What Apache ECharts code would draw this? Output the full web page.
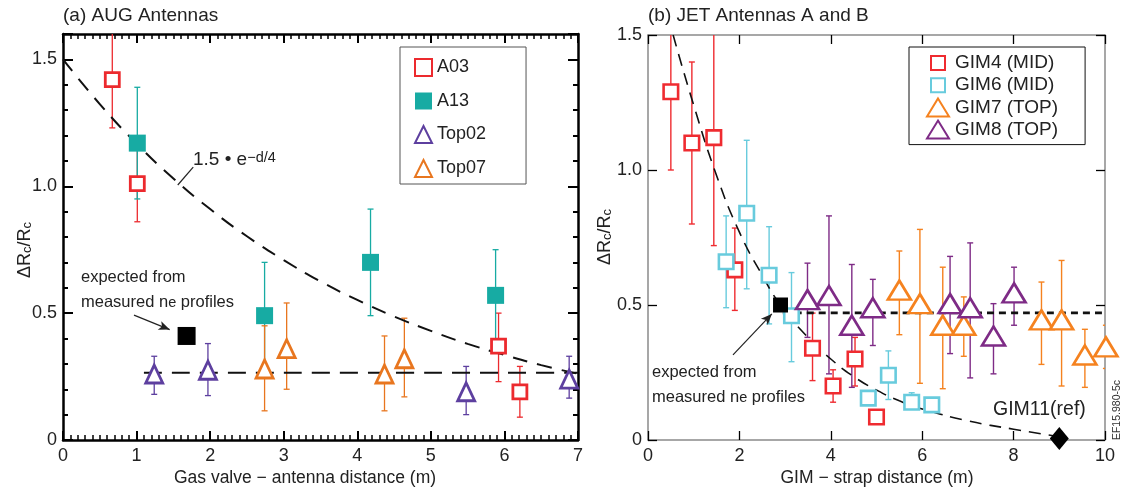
<!DOCTYPE html>
<html><head><meta charset="utf-8">
<script src="https://cdn.jsdelivr.net/npm/echarts@6/dist/echarts.min.js"></script>
<style>html,body{margin:0;padding:0;background:#fff}#c{width:1123px;height:493px}</style>
</head><body><div id="c"></div>
<script>
// ---------- DATA: [x, y, errLow, errHigh] ----------
// (a) AUG antennas
const augA03   = [[0.67,1.42,1.23,1.61],[1.01,1.01,0.86,1.17],[5.92,0.37,0.23,0.50],[6.21,0.19,0.09,0.29]];
const augA13   = [[1.01,1.17,0.95,1.39],[2.74,0.49,0.29,0.70],[4.18,0.70,0.49,0.91],[5.88,0.57,0.39,0.75]];
const augTop02 = [[1.24,0.26,0.18,0.33],[1.97,0.275,0.175,0.38],[5.48,0.19,0.10,0.29],[6.88,0.24,0.165,0.33]];
const augTop07 = [[2.74,0.28,0.115,0.45],[3.04,0.36,0.20,0.54],[4.37,0.26,0.115,0.41],[4.64,0.32,0.17,0.48]];
const augExpected = [[1.68,0.41]];
const augFitX = [0,0.5,1,1.5,2,2.5,3,3.5,4,4.5,5,5.5,6,6.5,7];
const augFitY = [1.50,1.324,1.168,1.031,0.910,0.803,0.709,0.625,0.552,0.487,0.430,0.379,0.335,0.295,0.261];
const augFloorX = [1.1,7];
const augFloorY = [0.265,0.265];
const augXTicks = [0,7,1];
const augYTicks = [0,1.6,0.5];

// (b) JET antennas A and B
const jetGIM4 = [[0.50,1.29,1.00,1.58],[0.96,1.10,0.80,1.40],[1.44,1.12,0.72,1.52],[1.90,0.63,0.48,0.785],[3.60,0.34,0.22,0.47],[4.05,0.20,0.14,0.26],[4.53,0.30,0.20,0.38],[5.00,0.085,0.085,0.085]];
const jetGIM6 = [[1.71,0.66,0.49,0.83],[2.16,0.84,0.56,1.11],[2.65,0.61,0.43,0.79],[3.14,0.46,0.29,0.62],[4.82,0.155,0.15,0.16],[5.26,0.24,0.15,0.33],[5.77,0.14,0.125,0.175],[6.21,0.13,0.13,0.13]];
const jetGIM7 = [[5.50,0.555,0.39,0.70],[5.95,0.505,0.21,0.78],[6.45,0.425,0.19,0.64],[6.91,0.425,0.31,0.53],[8.61,0.445,0.28,0.585],[9.05,0.445,0.20,0.665],[9.56,0.315,0.195,0.41],[10.02,0.345,0.265,0.425]];
const jetGIM8 = [[3.49,0.52,0.38,0.655],[3.96,0.535,0.245,0.83],[4.46,0.425,0.195,0.65],[4.92,0.49,0.35,0.595],[6.61,0.505,0.32,0.68],[7.05,0.49,0.23,0.73],[7.56,0.385,0.245,0.505],[8.01,0.545,0.425,0.64]];
const jetExpected = [[2.90,0.50]];
const jetRef = [[9.0,0.006]];
const jetFitX = [0.55,1,1.5,2,2.5,2.9,3.5,4,4.5,5,5.5,6,7,8,9];
const jetFitY = [1.50,1.24,0.98,0.77,0.61,0.50,0.38,0.30,0.235,0.185,0.145,0.115,0.071,0.040,0.012];
const jetFloorX = [2.95,10];
const jetFloorY = [0.471,0.471];
const jetXTicks = [0,10,2];
const jetYTicks = [0,1.5,0.5];

// ---------- STYLE ----------
const FF = '"Liberation Sans", Arial, Helvetica, sans-serif';
const TXT = '#222';
const C = {a03:'#ec2a2e', a13:'#17aba3', top02:'#5d3f9f', top07:'#e8761f',
           g4:'#ef2b30', g6:'#68cbdd', g7:'#f5821f', g8:'#7e2b86'};

function errSeries(name, data, color, xi, yi, lw) {
  return {
    type:'custom', name:name, xAxisIndex:xi, yAxisIndex:yi, clip:true, silent:true, z:1,
    encode:{x:0, y:1}, data:data,
    renderItem:function(params, api){
      const x = api.value(0), lo = api.value(2), hi = api.value(3);
      if (hi - lo < 1e-6) return null;
      const p1 = api.coord([x, lo]), p2 = api.coord([x, hi]);
      const cw = 3;
      const st = {stroke:color, lineWidth:lw};
      return {type:'group', children:[
        {type:'line', shape:{x1:p1[0],y1:p1[1],x2:p2[0],y2:p2[1]}, style:st},
        {type:'line', shape:{x1:p1[0]-cw,y1:p1[1],x2:p1[0]+cw,y2:p1[1]}, style:st},
        {type:'line', shape:{x1:p2[0]-cw,y1:p2[1],x2:p2[0]+cw,y2:p2[1]}, style:st}
      ]};
    }
  };
}
function markSeries(name, data, symbol, size, fill, stroke, bw, xi, yi, extra) {
  const s = {
    type:'scatter', name:name, xAxisIndex:xi, yAxisIndex:yi, clip:false, z:3,
    symbol:symbol, symbolSize:size,
    itemStyle:{color:fill, borderColor:stroke, borderWidth:bw, opacity:1},
    emphasis:{disabled:true}, silent:true,
    data:data.map(d => [d[0], d[1]])
  };
  return Object.assign(s, extra || {});
}
function lineSeries(xs, ys, dash, width, xi, yi) {
  return {type:'line', xAxisIndex:xi, yAxisIndex:yi, showSymbol:false, symbol:'none', smooth:true, silent:true, z:2,
    lineStyle:{color:'#111', width:width, type:dash}, data:xs.map((x,i)=>[x, ys[i]])};
}
function arrowLine(p0, p1) {
  return {silent:true, symbol:['none','arrow'], symbolSize:[7,11],
    lineStyle:{color:'#222', width:1.2, type:'solid'}, label:{show:false},
    data:[[{coord:p0},{coord:p1}]]};
}

const lblFmt = function(v){
  if (Math.abs(v*2 - Math.round(v*2)) > 1e-6) return '';
  return v === 0 ? '0' : v.toFixed(1);
};

function xAx(grid, pos, t, labels, lineColor, lw, minor) {
  return {type:'value', gridIndex:grid, position:pos, min:t[0], max:t[1], interval:t[2],
    axisLine:{show:true, onZero:false, lineStyle:{color:lineColor, width:lw}},
    axisTick:{show:true, inside:true, length:9, lineStyle:{color:'#000', width:lw>2?2:1.3}},
    minorTick:{show:!!minor, splitNumber:10, length:5, lineStyle:{color:'#000', width:1.5}},
    splitLine:{show:false}, minorSplitLine:{show:false},
    axisLabel:{show:labels, color:TXT, fontSize:18, fontFamily:FF, margin:7}};
}
function yAx(grid, pos, min, max, interval, labels, lineColor, lw, tickLen, showLine) {
  return {type:'value', gridIndex:grid, position:pos, min:min, max:max, interval:interval,
    axisLine:{show:showLine, onZero:false, lineStyle:{color:lineColor, width:lw}},
    axisTick:{show:true, inside:true, length:tickLen, lineStyle:{color:'#000', width:lw>2?2:1.3}},
    splitLine:{show:false},
    axisLabel:{show:labels, color:TXT, fontSize:18, fontFamily:FF, margin:6, formatter:lblFmt}};
}

const richY = {
  m:{fontSize:18, fontFamily:FF, fill:TXT, color:TXT, lineHeight:18, verticalAlign:'top'},
  s:{fontSize:13, fontFamily:FF, fill:TXT, color:TXT, lineHeight:13, padding:[7,0,0,0], verticalAlign:'bottom'}
};
const richNe = {
  m:{fontSize:16.5, fontFamily:FF, fill:TXT, color:TXT, lineHeight:17, verticalAlign:'top'},
  s:{fontSize:14.5, fontFamily:FF, fill:TXT, color:TXT, lineHeight:14, padding:[9,0,0,0], verticalAlign:'bottom'}
};
function txt(x, y, text, size, align, extra) {
  return Object.assign({type:'text', x:x, y:y, silent:true,
    style:{text:text, fontSize:size, fontFamily:FF, fill:TXT, align:align||'left', verticalAlign:'middle'}}, extra||{});
}

const option = {
  animation:false,
  backgroundColor:'#fff',
  grid:[
    {left:63, top:34, width:515, height:406},
    {left:648, top:35, width:457, height:405}
  ],
  xAxis:[
    xAx(0,'bottom',augXTicks,true,'#000',2.5,true),
    xAx(0,'top',augXTicks,false,'#000',2.5,true),
    xAx(1,'bottom',jetXTicks,true,'#8a8a8a',1.5,false),
    xAx(1,'top',jetXTicks,false,'#8a8a8a',1.5,false)
  ],
  yAxis:[
    yAx(0,'left',augYTicks[0],augYTicks[1],augYTicks[2],true,'#000',2.5,10,true),
    yAx(0,'left',augYTicks[0],augYTicks[1],0.1,false,'#000',2.5,5,false),
    yAx(0,'right',augYTicks[0],augYTicks[1],augYTicks[2],false,'#000',2.5,10,true),
    yAx(0,'right',augYTicks[0],augYTicks[1],0.1,false,'#000',2.5,5,false),
    yAx(1,'left',jetYTicks[0],jetYTicks[1],jetYTicks[2],true,'#8a8a8a',1.5,9,true),
    yAx(1,'right',jetYTicks[0],jetYTicks[1],jetYTicks[2],false,'#8a8a8a',1.5,9,true)
  ],
  legend:[
    {data:['A03','A13','Top02','Top07'], orient:'vertical', left:400, top:47,
     padding:[11,40,6,14], itemWidth:17, itemHeight:17, itemGap:15,
     borderColor:'#555', borderWidth:1, selectedMode:false,
     textStyle:{fontSize:18, fontFamily:FF, color:TXT}},
    {data:[
       {name:'GIM4 (MID)', icon:'path://M0,0M24,18M5,2h14v14h-14z'},
       {name:'GIM6 (MID)', icon:'path://M0,0M24,18M5,2h14v14h-14z'},
       {name:'GIM7 (TOP)', icon:'path://M0,0M24,18M12,0L23,18L1,18z'},
       {name:'GIM8 (TOP)', icon:'path://M0,0M24,18M12,0L23,18L1,18z'}],
     orient:'vertical', left:909, top:47,
     padding:[6,27,5,16], itemWidth:24, itemHeight:18, itemGap:2.2,
     borderColor:'#111', borderWidth:1, selectedMode:false,
     itemStyle:{borderWidth:2},
     textStyle:{fontSize:19, fontFamily:FF, color:TXT}}
  ],
  series:[
    // (a)
    lineSeries(augFitX, augFitY, [15,10], 2, 0, 0),
    lineSeries(augFloorX, augFloorY, [18,10], 2, 0, 0),
    errSeries('A03e', augA03, C.a03, 0, 0, 1.3),
    errSeries('A13e', augA13, C.a13, 0, 0, 1.3),
    errSeries('Top02e', augTop02, C.top02, 0, 0, 1.3),
    errSeries('Top07e', augTop07, C.top07, 0, 0, 1.3),
    markSeries('A03', augA03, 'rect', 14, '#fff', C.a03, 2.8, 0, 0),
    markSeries('A13', augA13, 'rect', 17, C.a13, C.a13, 0, 0, 0),
    markSeries('Top02', augTop02, 'triangle', [17,18], '#fff', C.top02, 2.8, 0, 0),
    markSeries('Top07', augTop07, 'triangle', [17,18], '#fff', C.top07, 2.8, 0, 0),
    markSeries('expA', augExpected, 'rect', 18, '#000', '#000', 0, 0, 0,
      {markLine:arrowLine([0.965,0.492],[1.45,0.435])}),
    {type:'line', xAxisIndex:0, yAxisIndex:0, showSymbol:false, silent:true, data:[],
     markLine:{silent:true, symbol:['none','none'], lineStyle:{color:'#222', width:1.2, type:'solid'}, label:{show:false},
       data:[[{coord:[1.56,1.005]},{coord:[1.77,1.075]}]]}},
    // (b)
    lineSeries(jetFitX, jetFitY, [12,8], 1.6, 2, 4),
    lineSeries(jetFloorX, jetFloorY, [7,5], 2.6, 2, 4),
    errSeries('g4e', jetGIM4, C.g4, 2, 4, 1.4),
    errSeries('g6e', jetGIM6, C.g6, 2, 4, 1.4),
    errSeries('g7e', jetGIM7, C.g7, 2, 4, 1.4),
    errSeries('g8e', jetGIM8, C.g8, 2, 4, 1.4),
    markSeries('GIM4 (MID)', jetGIM4, 'rect', 14.5, '#fff', C.g4, 2.6, 2, 4),
    markSeries('GIM6 (MID)', jetGIM6, 'rect', 14.5, '#fff', C.g6, 2.6, 2, 4),
    markSeries('GIM7 (TOP)', jetGIM7, 'triangle', [23,19], '#fff', C.g7, 2.6, 2, 4),
    markSeries('GIM8 (TOP)', jetGIM8, 'triangle', [23,19], '#fff', C.g8, 2.6, 2, 4),
    markSeries('expB', jetExpected, 'rect', 15, '#000', '#000', 0, 2, 4,
      {markLine:arrowLine([1.86,0.315],[2.71,0.467])}),
    markSeries('ref', jetRef, 'diamond', [19,23], '#000', '#000', 0, 2, 4)
  ],
  graphic:[
    txt(63, 16, '(a) AUG Antennas', 19),
    txt(648, 16, '(b) JET Antennas A and B', 19),
    txt(305, 478, 'Gas valve \u2212 antenna distance (m)', 17.5, 'center'),
    txt(877, 478, 'GIM \u2212 strap distance (m)', 17.5, 'center'),
    {type:'text', x:25, y:250, rotation:Math.PI/2, silent:true,
     style:{text:'{m|\u0394R}{s|c}{m|/R}{s|c}', rich:richY, align:'center', verticalAlign:'middle'}},
    {type:'text', x:605, y:237, rotation:Math.PI/2, silent:true,
     style:{text:'{m|\u0394R}{s|c}{m|/R}{s|c}', rich:richY, align:'center', verticalAlign:'middle'}},
    {type:'text', x:193, y:160, silent:true,
     style:{text:'{m|1.5 \u2022 e}{p|\u2212d/4}', align:'left', verticalAlign:'middle',
       rich:{m:{fontSize:19, fontFamily:FF, fill:TXT, color:TXT, lineHeight:19, verticalAlign:'bottom'},
             p:{fontSize:14.5, fontFamily:FF, fill:TXT, color:TXT, lineHeight:14, padding:[0,0,9,0], verticalAlign:'top'}}}},
    txt(81, 277, 'expected from', 16.5),
    {type:'text', x:81, y:302, silent:true,
     style:{text:'{m|measured n}{s|e}{m| profiles}', rich:richNe, align:'left', verticalAlign:'middle'}},
    txt(652, 372, 'expected from', 16.5),
    {type:'text', x:652, y:397, silent:true,
     style:{text:'{m|measured n}{s|e}{m| profiles}', rich:richNe, align:'left', verticalAlign:'middle'}},
    txt(993, 410, 'GIM11(ref)', 19.5),
    {type:'text', x:1117, y:410, rotation:Math.PI/2, silent:true,
     style:{text:'EF15.980-5c', fontSize:10.5, fontFamily:FF, fill:'#333', align:'center', verticalAlign:'middle'}}
  ]
};

const chart = echarts.init(document.getElementById('c'), null, {renderer:'canvas'});
chart.setOption(option);
</script>
</body></html>
